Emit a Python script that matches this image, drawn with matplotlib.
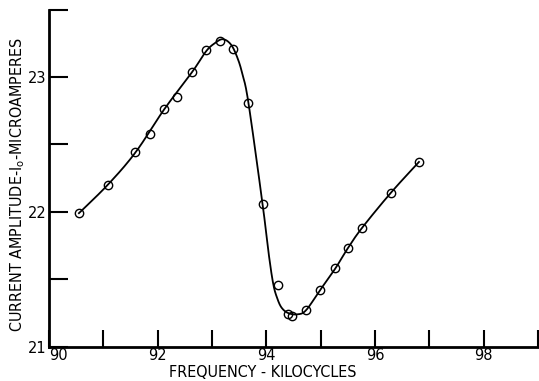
import matplotlib
matplotlib.use('Agg')
import matplotlib.pyplot as plt
import numpy as np

plt.rcParams['font.family'] = ['DejaVu Sans']

# measured points
freq = [90.55, 91.08, 91.59, 91.85, 92.12, 92.35, 92.64, 92.89, 93.14, 93.39, 93.67,
        93.93, 94.22, 94.39, 94.48, 94.73, 94.99, 95.27, 95.50, 95.76, 96.29, 96.81]
amp = [21.99, 22.20, 22.44, 22.58, 22.76, 22.85, 23.04, 23.20, 23.27, 23.21, 22.81,
       22.06, 21.46, 21.24, 21.23, 21.27, 21.42, 21.58, 21.73, 21.88, 22.14, 22.37]

# hand-drawn curve
curve_f = [90.55, 91.08, 91.59, 92.12, 92.64, 92.89, 93.05, 93.20, 93.35, 93.47, 93.56,
           93.67, 93.93, 94.05, 94.13, 94.20, 94.28, 94.40, 94.57, 94.73, 94.99, 95.27,
           95.50, 95.76, 96.29, 96.81]
curve_a = [21.99, 22.20, 22.44, 22.76, 23.04, 23.19, 23.25, 23.28, 23.24, 23.14, 23.02,
           22.81, 22.06, 21.67, 21.46, 21.36, 21.29, 21.25, 21.24, 21.27, 21.42, 21.58,
           21.73, 21.88, 22.14, 22.37]

x_ticks = [90, 91, 92, 93, 94, 95, 96, 97, 98, 99]
x_labels = ['90', '', '92', '', '94', '', '96', '', '98', '']
y_ticks = [21, 21.5, 22, 22.5, 23, 23.5]
y_labels = ['21', '', '22', '', '23', '']


def smooth(xs, ys, n=20):
    # catmull-rom through the traced points, just for drawing
    p = np.column_stack([xs, ys])
    p = np.vstack([p[0], p, p[-1]])
    out = []
    t = np.linspace(0, 1, n, endpoint=False)[:, None]
    for i in range(1, len(p) - 2):
        p0, p1, p2, p3 = p[i - 1], p[i], p[i + 1], p[i + 2]
        seg = 0.5 * ((2 * p1) + (-p0 + p2) * t + (2 * p0 - 5 * p1 + 4 * p2 - p3) * t ** 2
                     + (-p0 + 3 * p1 - 3 * p2 + p3) * t ** 3)
        out.append(seg)
    out.append(p[-2][None, :])
    out = np.vstack(out)
    return out[:, 0], out[:, 1]


fig = plt.figure(figsize=(5.39, 3.81), dpi=100)
ax = fig.add_axes([0.091, 0.09, 0.907, 0.885])

cx, cy = smooth(curve_f, curve_a)
ax.plot(cx, cy, color='black', linewidth=1.3, zorder=2)
ax.plot(freq, amp, linestyle='none', marker='o', markersize=6, markerfacecolor='none',
        markeredgecolor='black', markeredgewidth=1.0, zorder=3)

ax.set_xlim(90, 99)
ax.set_ylim(21, 23.5)

ax.spines['top'].set_visible(False)
ax.spines['right'].set_visible(False)
for s in ['left', 'bottom']:
    ax.spines[s].set_linewidth(2)

ax.set_xticks(x_ticks)
ax.set_xticklabels(x_labels)
ax.set_yticks(y_ticks)
ax.set_yticklabels(y_labels)
ax.tick_params(axis='x', direction='in', length=12, width=1.5, pad=1, labelsize=10.5)
ax.tick_params(axis='y', direction='in', length=14, width=1.5, pad=2, labelsize=10.5)
ax.get_xticklabels()[0].set_ha('left')

ax.set_xlabel('FREQUENCY - KILOCYCLES', fontsize=11.5, fontstretch='condensed')
ax.xaxis.set_label_coords(0.436, -0.054)
ax.set_ylabel('CURRENT AMPLITUDE-I$_\\mathregular{o}$-MICROAMPERES', fontsize=11.5,
              fontstretch='condensed')
ax.yaxis.set_label_coords(-0.046, 0.48)

fig.savefig('out.png', dpi=100, facecolor='white')
